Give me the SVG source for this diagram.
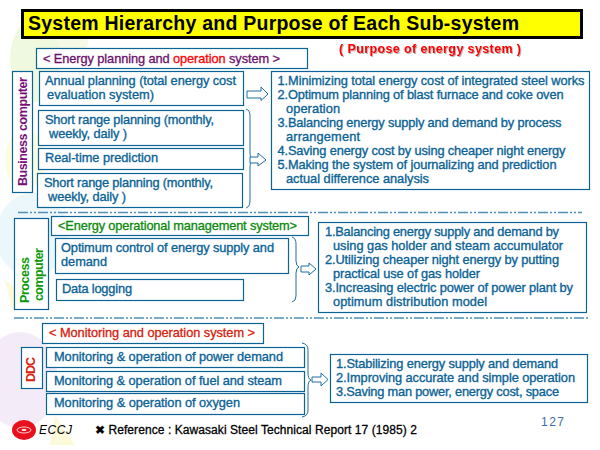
<svg xmlns="http://www.w3.org/2000/svg" width="600" height="450" viewBox="0 0 600 450">
<defs><filter id="sh" x="-5%" y="-30%" width="110%" height="160%"><feDropShadow dx="1" dy="1" stdDeviation=".5" flood-color="#000" flood-opacity=".3"/></filter></defs>
<style>
text{font-family:"Liberation Sans",Arial,sans-serif}
.b{fill:#fff;stroke:#0b6396;stroke-width:1.2}
.t{font-size:12.8px;fill:#0b6396;stroke:#0b6396;stroke-width:.35}
.a{fill:#fff;stroke:#1f6f9f;stroke-width:1}
.c{fill:none;stroke:#1f6f9f;stroke-width:1}
.d{stroke-width:1.3;stroke-dasharray:10 2 2 2 2 2;fill:none;stroke:#4f90b8}
</style>
<rect width="600" height="450" fill="#fff"/>
<g id="watermark" fill-opacity=".4">
<ellipse cx="35" cy="60" rx="25" ry="42" fill="#d6efb0"/>
<path d="M60 20Q90 0 88 45Q75 70 55 65Z" fill="#e4f3c0"/>
<ellipse cx="25" cy="160" rx="20" ry="30" fill="#f2f7b8"/>
<ellipse cx="32" cy="235" rx="36" ry="42" fill="#cfeaf7"/>
<ellipse cx="20" cy="380" rx="38" ry="48" fill="#e3cdf0"/>
<path d="M5 280L25 295L12 310Z" fill="#f8f2a0"/>
<path d="M55 415L75 445L50 445Z" fill="#f8f2a0"/>
</g>
<g id="title">
<rect x="22.500" y="10.500" width="559" height="27" fill="#ff0" stroke="#000" stroke-width="3"/>
<text x="28" y="30" font-size="19.500" font-weight="700" fill="#000" textLength="491">System Hierarchy and Purpose of Each Sub-system</text>
</g>
<text id="purpose" x="339" y="53" font-size="12.500" font-weight="700" fill="#f00" textLength="182" filter="url(#sh)">( Purpose of energy system  )</text>

<g id="connectors">
<path class="d" d="M18 212.500H582"/>
<path class="d" d="M14 318H588"/>
<path class="c" d="M246 109Q250 110 250 116V152Q250 159 253 160Q250 161 250 168V200Q250 207 246 208"/>
<path class="c" d="M292 237Q296 238 296 244V261Q296 266 299 267Q296 268 296 273V296Q296 301 292 302"/>
<path class="c" d="M302 343Q308 344 308 350V373Q308 379 311 380Q308 381 308 387V410Q308 416 302 417"/>
<path class="a" d="M247 91H261V87L268 94L261 100.500V98H247Z"/>
<path class="a" d="M250 157H258V153L266 160L258 166V163H250Z"/>
<path class="a" d="M301 266H309V263L316 269L309 275V272H301Z"/>
<path class="a" d="M312 377H321V373L328 379.500L321 386V382H312Z"/>
</g>

<g id="energy-planning"><rect class="b" x="36.500" y="48.500" width="271" height="20"/>
<text x="43" y="63" font-size="12.800" stroke-width=".3" textLength="237"><tspan fill="#6b0f6b" stroke="#6b0f6b">&lt; Energy planning and </tspan><tspan fill="#f00" stroke="#f00">operation</tspan><tspan fill="#6b0f6b" stroke="#6b0f6b"> system  &gt;</tspan></text></g>
<g id="business-computer"><rect class="b" x="12.500" y="71.500" width="20" height="121"/>
<text transform="translate(27 186) rotate(-90)" font-size="12.500" font-weight="700" fill="#7a0f7a" textLength="109">Business computer</text></g>
<g id="annual"><rect class="b" x="39.500" y="71.500" width="204" height="34"/>
<text class="t" x="45" y="85" textLength="191">Annual planning (total energy cost</text>
<text class="t" x="47" y="99" textLength="107">evaluation system)</text></g>
<g id="short1"><rect class="b" x="38.500" y="110.500" width="205" height="35"/>
<text class="t" x="45" y="124" textLength="169">Short range planning (monthly,</text>
<text class="t" x="49" y="138" textLength="78">weekly, daily  )</text></g>
<g id="realtime"><rect class="b" x="38.500" y="148.500" width="205" height="21"/>
<text class="t" x="45" y="162" textLength="113">Real-time prediction</text></g>
<g id="short2"><rect class="b" x="37.500" y="173.500" width="205" height="34"/>
<text class="t" x="44" y="187" textLength="169">Short range planning (monthly,</text>
<text class="t" x="48" y="201" textLength="78">weekly, daily  )</text></g>
<g id="purpose-1"><rect class="b" x="271.500" y="71.500" width="318" height="118"/>
<text class="t" x="277.500" y="85" textLength="307">1.Minimizing total energy cost of integrated steel works</text>
<text class="t" x="277.500" y="99" textLength="286">2.Optimum planning of blast furnace and coke oven</text>
<text class="t" x="286" y="113" textLength="54">operation</text>
<text class="t" x="277.500" y="127" textLength="284">3.Balancing energy supply and demand by process</text>
<text class="t" x="286" y="141" textLength="74">arrangement</text>
<text class="t" x="277.500" y="155" textLength="288">4.Saving energy cost by using cheaper night energy</text>
<text class="t" x="277.500" y="169" textLength="279">5.Making the system of journalizing and prediction</text>
<text class="t" x="286" y="183" textLength="143">actual difference analysis</text></g>

<g id="process-computer"><rect class="b" x="14.500" y="218.500" width="34" height="91"/>
<text transform="translate(29 303) rotate(-90)" font-size="12.500" font-weight="700" fill="#0a9a0a" textLength="46">Process</text>
<text transform="translate(43 301) rotate(-90)" font-size="12.500" font-weight="700" fill="#0a9a0a" textLength="53">computer</text></g>
<g id="energy-op"><rect class="b" x="51.500" y="216.500" width="257" height="19"/>
<text x="58" y="230" font-size="12.800" fill="#0a8a0a" stroke="#0a8a0a" stroke-width=".3" textLength="239">&lt;Energy operational management system&gt;</text></g>
<g id="optimum"><rect class="b" x="55.500" y="238.500" width="233" height="35"/>
<text class="t" x="61" y="252" textLength="213">Optimum control of energy supply and</text>
<text class="t" x="61" y="266" textLength="46">demand</text></g>
<g id="logging"><rect class="b" x="56.500" y="279.500" width="187" height="21"/>
<text class="t" x="62" y="293" textLength="70">Data logging</text></g>
<g id="purpose-2"><rect class="b" x="318.500" y="222.500" width="268" height="90"/>
<text class="t" x="325" y="236" textLength="234">1.Balancing energy supply and demand by</text>
<text class="t" x="333" y="250" textLength="230">using gas holder and steam accumulator</text>
<text class="t" x="325" y="264" textLength="234">2.Utilizing cheaper night energy by putting</text>
<text class="t" x="333" y="278" textLength="147">practical use of gas holder</text>
<text class="t" x="325" y="292" textLength="248">3.Increasing electric power of power plant by</text>
<text class="t" x="333" y="306" textLength="154">optimum distribution model</text></g>

<g id="monitoring"><rect class="b" x="42.500" y="323.500" width="221" height="20"/>
<text x="49" y="337" font-size="12.800" fill="#d8200c" stroke="#d8200c" stroke-width=".3" textLength="206">&lt; Monitoring and operation system &gt;</text></g>
<g id="ddc"><rect class="b" x="21.500" y="347.500" width="21" height="41"/>
<text transform="translate(35 382) rotate(-90)" font-size="12.500" font-weight="700" fill="#d8200c" textLength="25">DDC</text></g>
<g id="m1"><rect class="b" x="46.500" y="347.500" width="258" height="20"/>
<text class="t" x="54" y="361" textLength="229">Monitoring &amp; operation of power demand</text></g>
<g id="m2"><rect class="b" x="46.500" y="371.500" width="258" height="20"/>
<text class="t" x="54" y="385" textLength="228">Monitoring &amp; operation of fuel and steam</text></g>
<g id="m3"><rect class="b" x="46.500" y="393.500" width="258" height="21"/>
<text class="t" x="54" y="407" textLength="186">Monitoring &amp; operation of oxygen</text></g>
<g id="purpose-3"><rect class="b" x="330.500" y="354.500" width="257" height="48"/>
<text class="t" x="336" y="368" textLength="222">1.Stabilizing energy supply and demand</text>
<text class="t" x="336" y="382" textLength="239">2.Improving accurate and simple operation</text>
<text class="t" x="336" y="396" textLength="223">3.Saving man power, energy cost, space</text></g>

<g id="footer">
<ellipse cx="24" cy="430" rx="12" ry="10" fill="#e8101c"/>
<ellipse cx="24" cy="430" rx="7" ry="3" fill="none" stroke="#fff" stroke-width=".8"/>
<ellipse cx="24" cy="430" rx="2.500" ry="1" fill="#fff"/>
<text x="39" y="434" font-size="12" font-style="italic" fill="#000" textLength="33">ECCJ</text>
<text x="95" y="434" font-size="12" fill="#000" stroke="#000" stroke-width=".3" textLength="322">✖ Reference : Kawasaki Steel Technical Report 17 (1985) 2</text>
<text x="541" y="426" font-size="12" fill="#3a6ea5" textLength="23">127</text>
</g>
</svg>
